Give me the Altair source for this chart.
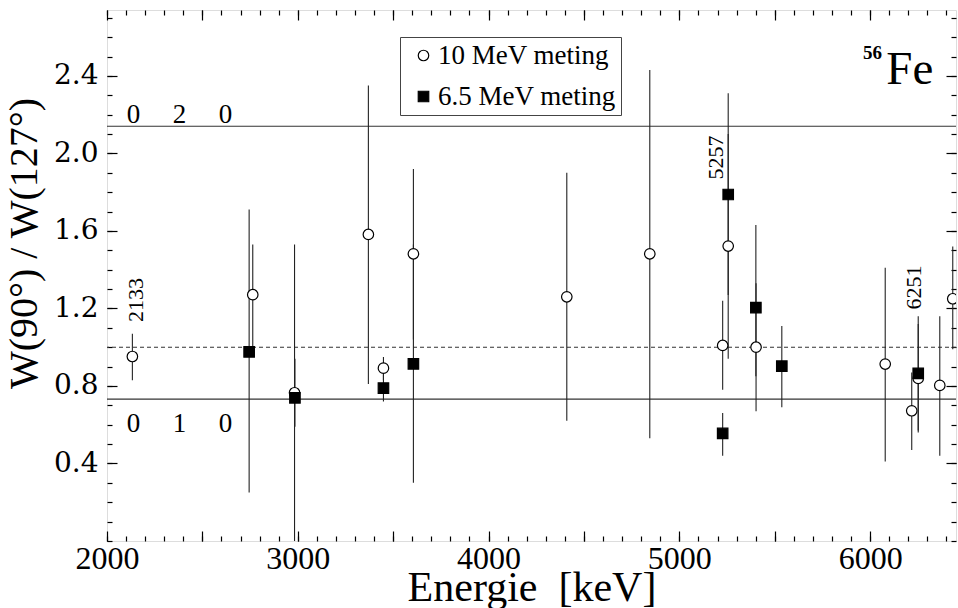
import altair as alt
import pandas as pd

S10 = "10 MeV meting"
S65 = "6.5 MeV meting"

# 10 MeV measurement (open circles)
e10 = [2133, 2764, 2983, 3370, 3449, 3606, 4410, 4845, 5227, 5256, 5402, 6079, 6218, 6252, 6365, 6433]
r10 = [0.952, 1.271, 0.765, 1.582, 0.892, 1.482, 1.260, 1.482, 1.009, 1.522, 1.000, 0.913, 0.672, 0.839, 0.803, 1.250]
lo10 = [0.83, 0.99, 0.00, 0.81, 0.83, 1.04, 0.62, 0.53, 0.78, 0.94, 0.67, 0.41, 0.47, 0.56, 0.44, 0.99]
hi10 = [1.07, 1.53, 1.53, 2.35, 0.95, 1.92, 1.90, 2.43, 1.24, 2.10, 1.33, 1.41, 0.87, 1.12, 1.16, 1.52]

# 6.5 MeV measurement (filled squares)
e65 = [2745, 2985, 3449, 3606, 5227, 5256, 5401, 5537, 6252]
r65 = [0.976, 0.739, 0.789, 0.914, 0.555, 1.788, 1.204, 0.902, 0.865]
lo65 = [0.25, 0.59, 0.72, 0.30, 0.44, 1.27, 0.85, 0.69, 0.57]
hi65 = [1.71, 0.94, 0.86, 1.53, 0.66, 2.31, 1.63, 1.11, 1.16]

# reference lines
hl_solid = [2.14, 0.732]
hl_dash = [1.0]

# rotated level labels
lab_e = [2150, 5192, 6230]
lab_r = [1.13, 1.866, 1.195]
lab_t = ["2133", "5257", "6251"]

# spin sequence labels
seq_e = [2139, 2380, 2621, 2139, 2380, 2621]
seq_r = [2.155, 2.155, 2.155, 0.565, 0.565, 0.565]
seq_t = ["0", "2", "0", "0", "1", "0"]

# ticks
x_major = [2000, 2500, 3000, 3500, 4000, 4500, 5000, 5500, 6000]
x_minor = list(range(2000, 6451, 100))
y_major = [0.4, 0.8, 1.2, 1.6, 2.0, 2.4]
y_minor = [round(0.1 * i, 1) for i in range(0, 28)]

XDOM = [2000, 6450]
YDOM = [0, 2.74]

df = pd.DataFrame({
    "E": e10 + e65,
    "R": r10 + r65,
    "lo": lo10 + lo65,
    "hi": hi10 + hi65,
    "meting": [S10] * len(e10) + [S65] * len(e65),
})
df_lab = pd.DataFrame({"E": lab_e, "R": lab_r, "t": lab_t})
df_seq = pd.DataFrame({"E": seq_e, "R": seq_r, "t": seq_t})
df_hs = pd.DataFrame({"R": hl_solid})
df_hd = pd.DataFrame({"R": hl_dash})
df_fe = pd.DataFrame({"E": [6085], "R": [2.356], "t": ["Fe"]})
df_56 = pd.DataFrame({"E": [5962], "R": [2.485], "t": ["56"]})

xs = alt.Scale(domain=XDOM, nice=False, zero=False)
ys = alt.Scale(domain=YDOM, nice=False, zero=False)

SERIF = "Liberation Serif"
LSERIF = "DejaVu Serif"


def tick_axis(orient, values, size):
    return alt.Axis(orient=orient, values=values, tickSize=size, offset=-size,
                    domain=False, grid=False, labels=False, title=None,
                    tickColor="black", tickWidth=1.2)


ax_x_main = alt.Axis(orient="bottom", values=x_major, tickSize=10, offset=-10,
                     domain=False, grid=False, tickColor="black", tickWidth=1.2,
                     labelExpr="datum.value % 1000 == 0 ? datum.label : ''",
                     format="d", labelFont=SERIF, labelFontSize=32, labelColor="black",
                     labelPadding=2, labelFlush=False, labelOverlap=False,
                     title="Energie \u00a0[keV]", titleFont=SERIF, titleFontSize=42,
                     titleFontWeight="normal", titleColor="black", titlePadding=-7)
ax_y_main = alt.Axis(orient="left", values=y_major, tickSize=10, offset=-10,
                     domain=False, grid=False, tickColor="black", tickWidth=1.2,
                     format=".1f", labelFont=LSERIF, labelFontSize=28,
                     labelColor="black", labelPadding=9, labelFlush=False,
                     labelOverlap=False,
                     title="W(90°) / W(127°)", titleFont=SERIF, titleFontSize=40,
                     titleFontWeight="normal", titleColor="black", titlePadding=9,
                     titleY=233)

legend = alt.Legend(title=None, orient="none", legendX=293, legendY=27,
                    strokeColor="#444", fillColor="white", padding=5,
                    labelFont=SERIF, labelFontSize=27, labelColor="black",
                    labelLimit=400,
                    symbolSize=110, symbolStrokeColor="black", symbolStrokeWidth=1.2,
                    rowPadding=13, symbolOffset=5, labelOffset=1)

hs = alt.Chart(df_hs).mark_rule(color="#333", strokeWidth=1.1).encode(
    y=alt.Y("R:Q", scale=ys, axis=None))
hd = alt.Chart(df_hd).mark_rule(color="#333", strokeWidth=1.1, strokeDash=[4, 3]).encode(
    y=alt.Y("R:Q", scale=ys, axis=None))

bars = alt.Chart(df).mark_rule(color="#222", strokeWidth=1.1, clip=True).encode(
    x=alt.X("E:Q", scale=xs, axis=ax_x_main),
    y=alt.Y("lo:Q", scale=ys, axis=ax_y_main),
    y2="hi:Q",
)

pts = alt.Chart(df).mark_point(filled=True, size=110, strokeWidth=1.2,
                               opacity=1, clip=True).encode(
    x=alt.X("E:Q", scale=xs, axis=tick_axis("bottom", x_minor, 5)),
    y=alt.Y("R:Q", scale=ys, axis=tick_axis("left", y_minor, 5)),
    shape=alt.Shape("meting:N", scale=alt.Scale(domain=[S10, S65], range=["circle", "square"]),
                    legend=legend),
    fill=alt.Fill("meting:N", scale=alt.Scale(domain=[S10, S65], range=["white", "black"]),
                  legend=legend),
    stroke=alt.Stroke("meting:N", scale=alt.Scale(domain=[S10, S65], range=["black", "black"]),
                      legend=legend),
)

labs = alt.Chart(df_lab).mark_text(angle=270, align="left", baseline="middle",
                                    font=SERIF, fontSize=22, color="black").encode(
    x=alt.X("E:Q", scale=xs, axis=tick_axis("top", x_major, 10)),
    y=alt.Y("R:Q", scale=ys, axis=tick_axis("right", y_major, 10)),
    text="t:N",
)

seq = alt.Chart(df_seq).mark_text(align="center", baseline="alphabetic",
                                   font=SERIF, fontSize=27, color="black").encode(
    x=alt.X("E:Q", scale=xs, axis=tick_axis("top", x_minor, 5)),
    y=alt.Y("R:Q", scale=ys, axis=tick_axis("right", y_minor, 5)),
    text="t:N",
)

fe = alt.Chart(df_fe).mark_text(align="left", baseline="alphabetic",
                                 font=SERIF, fontSize=47, color="black").encode(
    x=alt.X("E:Q", scale=xs, axis=None),
    y=alt.Y("R:Q", scale=ys, axis=None),
    text="t:N",
)
n56 = alt.Chart(df_56).mark_text(align="left", baseline="alphabetic",
                                  font=SERIF, fontSize=19, fontWeight="bold",
                                  color="black").encode(
    x=alt.X("E:Q", scale=xs, axis=None),
    y=alt.Y("R:Q", scale=ys, axis=None),
    text="t:N",
)

chart = alt.layer(hs, hd, bars, pts, labs, seq, fe, n56).resolve_axis(
    x="independent", y="independent"
).properties(
    width=849, height=531,
    autosize=alt.AutoSizeParams(type="none"),
    padding={"left": 107, "top": 10, "right": 2, "bottom": 67},
).configure_view(stroke="black", strokeWidth=1.5).configure(background="white")

chart.save("out.html", embed_options={"renderer": "svg", "actions": False})
